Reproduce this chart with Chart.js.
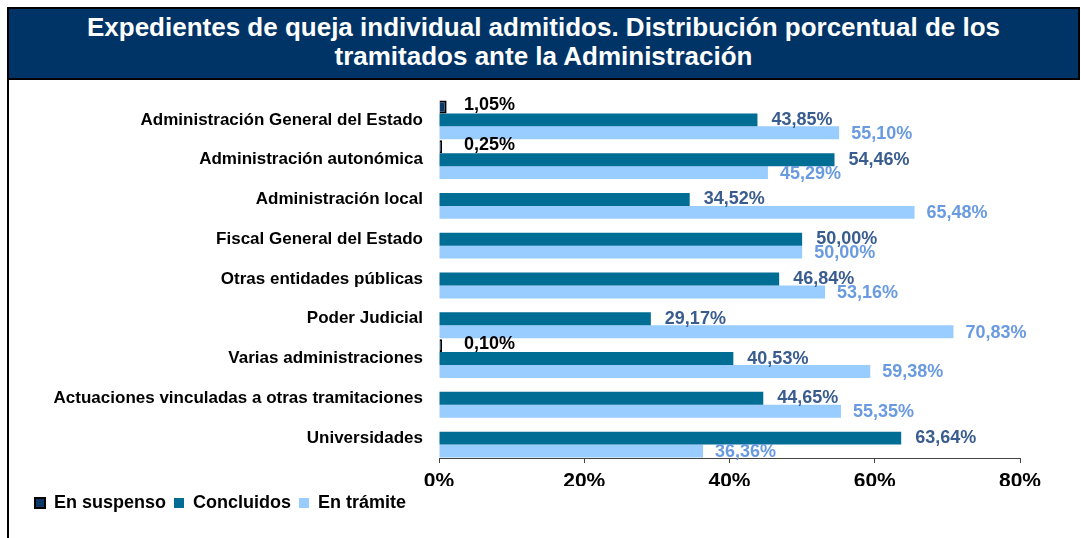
<!DOCTYPE html>
<html>
<head>
<meta charset="utf-8">
<script src="https://cdn.jsdelivr.net/npm/chart.js@4"></script>
<style>
  body { margin: 0; background: #fff; font-family: "Liberation Sans", Arial, sans-serif; }
  #page { position: relative; width: 1081px; height: 538px; overflow: hidden; }
  #banner {
    position: absolute; left: 7px; top: 7px; width: 1069px; height: 65px;
    background: #003366; border: 2px solid #000;
    color: #fff; font-weight: bold; font-size: 26px; line-height: 29px;
    text-align: center; padding-top: 4px; box-sizing: content-box;
  }
  #leftline { position: absolute; left: 7px; top: 76px; width: 2px; height: 462px; background: #000; }
  #wrap { position: absolute; left: 9px; top: 76px; width: 1072px; height: 462px; }
</style>
</head>
<body>
<div id="page">
  <div id="banner">Expedientes de queja individual admitidos. Distribución porcentual de los<br>tramitados ante la Administración</div>
  <div id="leftline"></div>
  <div id="wrap"><canvas id="graphCanvas"></canvas></div>
</div>
<script>
// categorie e valori
var categorie = [
    "Administración General del Estado",
    "Administración autonómica",
    "Administración local",
    "Fiscal General del Estado",
    "Otras entidades públicas",
    "Poder Judicial",
    "Varias administraciones",
    "Actuaciones vinculadas a otras tramitaciones",
    "Universidades"
];
var enSuspenso = [1.05, 0.25, null, null, null, null, 0.10, null, null];
var concluidos = [43.85, 54.46, 34.52, 50.00, 46.84, 29.17, 40.53, 44.65, 63.64];
var enTramite = [55.10, 45.29, 65.48, 50.00, 53.16, 70.83, 59.38, 55.35, 36.36];
var xTicks = [0, 20, 40, 60, 80];

var FONT = "'Liberation Sans', Arial, sans-serif";

function formatta(v) {
    return v.toFixed(2).replace('.', ',') + '%';
}

// plugin per le etichette dei valori
var etichette = {
    id: 'etichette',
    afterDatasetsDraw: function (chart) {
        var ctx = chart.ctx;
        var x0 = chart.scales.x.getPixelForValue(0);
        ctx.save();
        ctx.font = 'bold 18px ' + FONT;
        ctx.textBaseline = 'middle';
        ctx.textAlign = 'left';
        chart.data.datasets.forEach(function (ds, i) {
            var meta = chart.getDatasetMeta(i);
            meta.data.forEach(function (bar, j) {
                var v = ds.data[j];
                if (v === null || v === undefined) return;
                if (i === 0) {
                    ctx.fillStyle = '#000';
                    ctx.fillText(formatta(v), x0 + 25, bar.y - 2);
                } else if (i === 1) {
                    ctx.fillStyle = '#3a5d8f';
                    ctx.fillText(formatta(v), bar.x + 14, bar.y);
                } else {
                    ctx.fillStyle = '#6a9be0';
                    ctx.fillText(formatta(v), bar.x + 12, bar.y + 1);
                }
            });
        });
        ctx.restore();
    }
};

var graphTarget = document.getElementById('graphCanvas');
var lineGraph = new Chart(graphTarget, {
    type: 'bar',
    data: {
        labels: categorie,
        datasets: [
            {
                label: 'En suspenso',
                data: enSuspenso,
                backgroundColor: '#0b3866',
                borderColor: '#000',
                borderWidth: 2,
                minBarLength: 3,
                categoryPercentage: 0.975,
                barPercentage: 1
            },
            {
                label: 'Concluidos',
                data: concluidos,
                backgroundColor: '#006d95',
                borderWidth: 0,
                categoryPercentage: 0.975,
                barPercentage: 1
            },
            {
                label: 'En trámite',
                data: enTramite,
                backgroundColor: '#99ccff',
                borderWidth: 0,
                categoryPercentage: 0.975,
                barPercentage: 1
            }
        ]
    },
    options: {
        indexAxis: 'y',
        responsive: true,
        maintainAspectRatio: false,
        animation: false,
        layout: {
            padding: { left: 18, right: 61, top: 24, bottom: 16 }
        },
        plugins: {
            legend: {
                position: 'bottom',
                align: 'start',
                labels: {
                    boxWidth: 10,
                    boxHeight: 10,
                    padding: 8,
                    color: '#000',
                    font: { family: FONT, size: 18, weight: 'bold' }
                }
            },
            tooltip: { enabled: false }
        },
        scales: {
            x: {
                min: 0,
                max: 80,
                afterBuildTicks: function (scale) {
                    scale.ticks = xTicks.map(function (v) { return { value: v }; });
                },
                grid: { drawOnChartArea: false, drawTicks: true, tickLength: 5, color: '#444' },
                border: { display: true, color: '#444', width: 1 },
                ticks: {
                    color: '#000',
                    padding: 6,
                    font: { family: FONT, size: 21, weight: 'bold' },
                    callback: function (v) { return v + '%'; }
                },
                afterFit: function (scale) { scale.height = 28; }
            },
            y: {
                grid: { display: false },
                border: { display: false },
                ticks: {
                    color: '#000',
                    padding: 8,
                    font: { family: FONT, size: 17, weight: 'bold' }
                },
                afterFit: function (scale) { scale.width = 412; }
            }
        }
    },
    plugins: [etichette]
});
</script>
</body>
</html>
